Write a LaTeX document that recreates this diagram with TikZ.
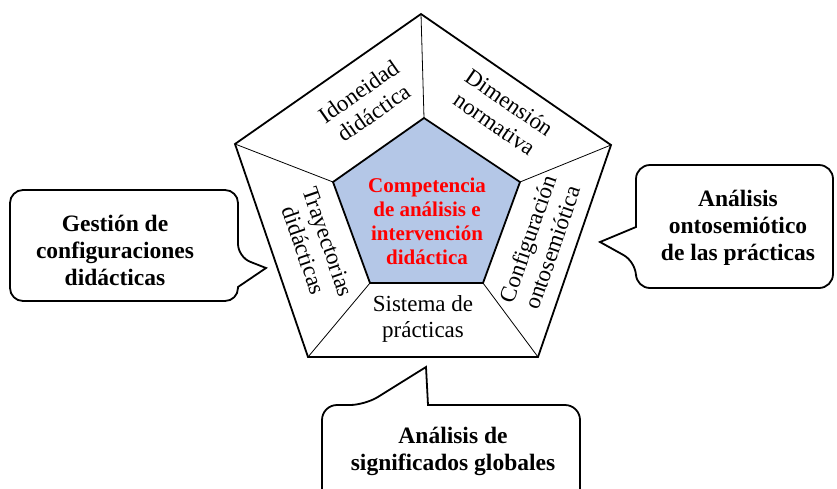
\documentclass[tikz,border=0pt]{standalone}
\usepackage{fontspec}
\setmainfont{Liberation Serif}
\definecolor{innerblue}{RGB}{180,199,231}
\begin{document}
\begin{tikzpicture}[x=1pt,y=-1pt,
  lbl/.style={font=\fontsize{23}{26}\selectfont, align=center, inner sep=0pt},
  ctr/.style={font=\fontsize{21}{24}\selectfont\bfseries, text=red, align=center, inner sep=0pt},
  calltext/.style={font=\fontsize{23.5}{27}\selectfont\bfseries, align=center, inner sep=0pt},
  callout/.style={draw=black, line width=1.8pt, fill=white, line join=miter},
  pent/.style={draw=black, line width=1.8pt, line join=miter},
  spoke/.style={draw=black, line width=0.8pt}
]
\useasboundingbox (0,0) rectangle (837,488);
\fill[white] (0,0) rectangle (837,488);

% outer pentagon
\coordinate (O1) at (421,14);
\coordinate (O2) at (611,145);
\coordinate (O3) at (538,357);
\coordinate (O4) at (308,357);
\coordinate (O5) at (235,144);
% inner pentagon
\coordinate (I1) at (424,118);
\coordinate (I2) at (520,182);
\coordinate (I3) at (483,283);
\coordinate (I4) at (370,283);
\coordinate (I5) at (333,182);

\draw[pent] (O1) -- (O2) -- (O3) -- (O4) -- (O5) -- cycle;
\draw[spoke] (I1) -- (O1);
\draw[spoke] (I2) -- (O2);
\draw[spoke] (I3) -- (O3);
\draw[spoke] (I4) -- (O4);
\draw[spoke] (I5) -- (O5);
\draw[pent, fill=innerblue] (I1) -- (I2) -- (I3) -- (I4) -- (I5) -- cycle;

% labels
\node[ctr] (c) at (427,221) {Competencia\\de análisis e\\intervención\\didáctica};
\node[lbl, rotate=35] (l1) at (366,102) {Idoneidad\\didáctica};
\node[lbl, rotate=-34.6] (l2) at (502,113) {Dimensión\\normativa};
\node[lbl, rotate=71] (l3) at (540,243) {Configuración\\ontosemiótica};
\node[lbl] (l4) at (423,319) {Sistema de\\prácticas};
\node[lbl, rotate=-71] (l5) at (316,246) {Trayectorias\\didácticas};

% left callout
\draw[callout] (124,190) [rounded corners=13pt] -- (238,190) -- (238,257) [sharp corners] -- (266,268) -- (238,287) [rounded corners=13pt] -- (238,301) -- (10,301) -- (10,190) -- cycle;
\node[calltext] (g) at (115,250) {Gestión de\\configuraciones\\didácticas};

% right callout
\draw[callout] (735,165) [rounded corners=14pt] -- (833,165) -- (833,288) -- (636,288) -- (636,262) [sharp corners] -- (600,242) -- (636,227) [rounded corners=14pt] -- (636,165) -- cycle;
\node[calltext] (a) at (738,228) {Análisis\\ontosemiótico\hspace*{0.6em}\\de las prácticas};

% bottom callout
\draw[callout] (322,492) [rounded corners=15pt] -- (322,405) -- (365,405) [sharp corners] -- (426,367) -- (428,405) [rounded corners=15pt] -- (580,405) -- (580,492);
\node[calltext] (s) at (453,451) {Análisis de\\significados globales};
\end{tikzpicture}
\end{document}
